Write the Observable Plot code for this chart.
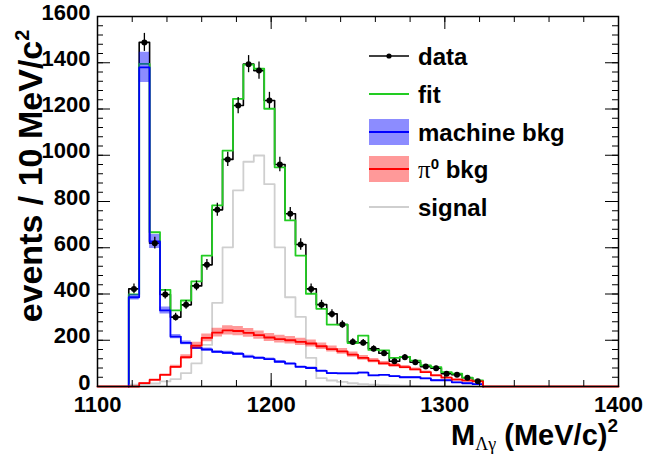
<!DOCTYPE html>
<html><head><meta charset="utf-8">
<script src="https://cdn.jsdelivr.net/npm/d3@7"></script>
<script src="https://cdn.jsdelivr.net/npm/@observablehq/plot@0.6"></script>
<style>
body{margin:0;background:#fff;}
#wrap{position:relative;width:659px;height:455px;}
#wrap svg{position:absolute;left:0;top:0;}
</style></head><body><div id="wrap"></div>
<script>
// bin centres (MeV/c^2), bin half width 3
const binCenters = [1121,1127,1133,1139,1145,1151,1157,1163,1169,1175,1181,1187,1193,1199,1205,1211,1217,1223,1229,1235,1241,1247,1253,1259,1265,1271,1277,1283,1289,1295,1301,1307,1313,1319];
const binHalf = 3;
const dataCounts = [422,1488,620,398,300,353,435,526,764,982,1215,1394,1366,1237,960,747,614,422,354,314,268,192,189,163,144,109,127,105,86,79,55,51,38,23];
const dataErr = [21,39,25,20,17,19,21,23,28,31,35,37,37,35,31,27,25,21,19,18,16,14,14,13,12,10,11,10,9,9,7,7,6,5];
const fitVals = [398,1395,667,418,329,372,455,566,783,1020,1244,1392,1374,1201,948,718,566,401,336,268,268,188,220,158,156,124,128,112,91,84,62,56,38,26];
const machineVals = [386,1380,627,329,216,189,167,160,150,146,141,129,124,118,107,99,85,80,68,58,57,57,60,48,50,45,40,40,35,27,27,18,14,10];
const machineErr = [12,65,30,15,9,8,7,7,6,6,6,6,5,5,5,4,4,4,3,3,3,3,3,2,2,2,2,2,2,1,1,1,1,1];
const pi0Vals = [0,15,29,50,85,127,177,210,233,243,240,232,222,212,205,200,193,186,174,162,152,138,124,112,100,92,84,74,62,48,38,30,26,22];
const pi0Err = [0,2,3,4,7,10,14,17,19,20,20,19,18,17,17,16,16,15,14,13,12,11,10,9,8,7,7,6,5,4,3,3,2,2];
const signalVals = [8,10,13,22,32,58,100,180,362,602,848,972,999,875,602,386,301,124,36,26,20,14,10,8,6,5,4,3,2,2,1,1,1,0];
const xRange = [1100,1400];
const yRange = [0,1600];
const xTickLabels = [1100,1200,1300,1400];
const yTickLabels = [0,200,400,600,800,1000,1200,1400,1600];
const xMinorTicks = d3.range(1100,1401,20);
const yMinorTicks = d3.range(0,1601,40);

const n = binCenters.length;
function steps(vals, full){
  const pts = [];
  if (full) pts.push({x: xRange[0], y: 0});
  pts.push({x: binCenters[0]-binHalf, y: 0});
  vals.forEach((v,i)=>pts.push({x: binCenters[i]-binHalf, y: v}));
  pts.push({x: binCenters[n-1]+binHalf, y: 0});
  if (full) pts.push({x: xRange[1], y: 0});
  return pts;
}
function band(vals, errs){
  const pts = vals.map((v,i)=>({x: binCenters[i]-binHalf, y1: v-errs[i], y2: v+errs[i]}));
  pts.push({x: binCenters[n-1]+binHalf, y1: vals[n-1]-errs[n-1], y2: vals[n-1]+errs[n-1]});
  return pts;
}
const points = binCenters.map((c,i)=>({x:c, y:dataCounts[i], lo:dataCounts[i]-dataErr[i], hi:dataCounts[i]+dataErr[i]}));

const PH = 370, PW = 521;
const GREEN = "#22cc22", BLUE = "#0000ff", RED = "#ff0000", GRAY = "#cfcfcf";
const plot = Plot.plot({
  width: 659, height: 455,
  marginLeft: 97, marginRight: 41, marginTop: 16, marginBottom: 69,
  x: {domain: xRange, axis: null},
  y: {domain: yRange, axis: null},
  style: {fontFamily: "'Liberation Sans', Arial, sans-serif", background: "white", overflow: "visible", color: "black"},
  marks: [
    Plot.line(steps(dataCounts), {x:"x", y:"y", curve:"step-after", stroke:"black", strokeWidth:1.6}),
    Plot.line(steps(fitVals), {x:"x", y:"y", curve:"step-after", stroke:GREEN, strokeWidth:1.8}),
    Plot.line(steps(signalVals), {x:"x", y:"y", curve:"step-after", stroke:GRAY, strokeWidth:1.8}),
    Plot.areaY(band(machineVals, machineErr), {x:"x", y1:"y1", y2:"y2", curve:"step-after", fill:BLUE, fillOpacity:0.45}),
    Plot.line(steps(machineVals), {x:"x", y:"y", curve:"step-after", stroke:BLUE, strokeWidth:1.8}),
    Plot.areaY(band(pi0Vals, pi0Err), {x:"x", y1:"y1", y2:"y2", curve:"step-after", fill:RED, fillOpacity:0.4}),
    Plot.line(steps(pi0Vals, true), {x:"x", y:"y", curve:"step-after", stroke:RED, strokeWidth:1.8}),
    Plot.ruleX(points, {x:"x", y1:"lo", y2:"hi", stroke:"black", strokeWidth:1.3}),
    Plot.dot(points, {x:"x", y:"y", r:3, fill:"black", stroke:"none"}),
    // ticks (inside the frame, mirrored)
    Plot.tickX(xMinorTicks, {x:d=>d, insetTop: PH-6, stroke:"black"}),
    Plot.tickX(xMinorTicks, {x:d=>d, insetBottom: PH-6, stroke:"black"}),
    Plot.tickX(xTickLabels, {x:d=>d, insetTop: PH-13, stroke:"black"}),
    Plot.tickX(xTickLabels, {x:d=>d, insetBottom: PH-13, stroke:"black"}),
    Plot.tickY(yMinorTicks, {y:d=>d, insetRight: PW-6, stroke:"black"}),
    Plot.tickY(yMinorTicks, {y:d=>d, insetLeft: PW-6, stroke:"black"}),
    Plot.tickY(yTickLabels, {y:d=>d, insetRight: PW-13, stroke:"black"}),
    Plot.tickY(yTickLabels, {y:d=>d, insetLeft: PW-13, stroke:"black"}),
    Plot.frame({stroke:"black", strokeWidth:1.5}),
    Plot.text(xTickLabels, {x:d=>d, text:d=>`${d}`, frameAnchor:"bottom", dy:25, fontSize:22, fontWeight:"bold", fill:"black"}),
    Plot.text(yTickLabels, {y:d=>d, text:d=>`${d}`, frameAnchor:"left", dx:-7, dy:-4, textAnchor:"end", fontSize:22, fontWeight:"bold", fill:"black"})
  ]
});
const wrap = document.getElementById("wrap");
wrap.appendChild(plot);

const legendRows = [
  {label:"data", kind:"data"},
  {label:"fit", kind:"fit"},
  {label:"machine bkg", kind:"machine"},
  {label:"π0 bkg", kind:"pi0"},
  {label:"signal", kind:"signal"}
];
const rowY = [56, 94, 132, 169, 207];
let leg = "";
legendRows.forEach((r,i)=>{
  const cy = rowY[i];
  if (r.kind==="data") leg += `<line x1="369" x2="409" y1="${cy}" y2="${cy}" stroke="black" stroke-width="1.5"/><circle cx="389" cy="${cy}" r="2.6" fill="black"/>`;
  if (r.kind==="fit") leg += `<line x1="369" x2="409" y1="${cy}" y2="${cy}" stroke="${GREEN}" stroke-width="1.8"/>`;
  if (r.kind==="machine") leg += `<rect x="369" y="${cy-13}" width="40" height="26" fill="${BLUE}" fill-opacity="0.45"/><line x1="369" x2="409" y1="${cy}" y2="${cy}" stroke="${BLUE}" stroke-width="1.8"/>`;
  if (r.kind==="pi0") leg += `<rect x="369" y="${cy-13}" width="40" height="26" fill="${RED}" fill-opacity="0.4"/><line x1="369" x2="409" y1="${cy}" y2="${cy}" stroke="${RED}" stroke-width="1.8"/>`;
  if (r.kind==="signal") leg += `<line x1="369" x2="409" y1="${cy}" y2="${cy}" stroke="${GRAY}" stroke-width="1.8"/>`;
  if (r.kind==="pi0") {
    leg += `<text x="418" y="${cy+9}" font-size="24" font-weight="bold"><tspan font-family="'Liberation Serif', serif" font-weight="normal" font-size="25">π</tspan><tspan dy="-9" font-size="15">0</tspan><tspan dy="9"> bkg</tspan></text>`;
  } else {
    leg += `<text x="418" y="${cy+9}" font-size="24" font-weight="bold">${r.label}</text>`;
  }
});

const overlay = `<svg width="659" height="455" xmlns="http://www.w3.org/2000/svg" style="pointer-events:none;font-family:'Liberation Sans', Arial, sans-serif" fill="black">
<text transform="translate(42,176) rotate(-90)" text-anchor="middle" font-size="34" font-weight="bold">events / 10 MeV/c<tspan dy="-13" font-size="20">2</tspan></text>
<text x="618" y="445" text-anchor="end" font-size="29" font-weight="bold">M<tspan font-family="'Liberation Serif', serif" font-weight="normal" font-size="18" dy="5">Λγ</tspan><tspan dy="-5"> (MeV/c)</tspan><tspan dy="-13" font-size="19">2</tspan></text>
${leg}
</svg>`;
wrap.insertAdjacentHTML("beforeend", overlay);
</script>
</body></html>
